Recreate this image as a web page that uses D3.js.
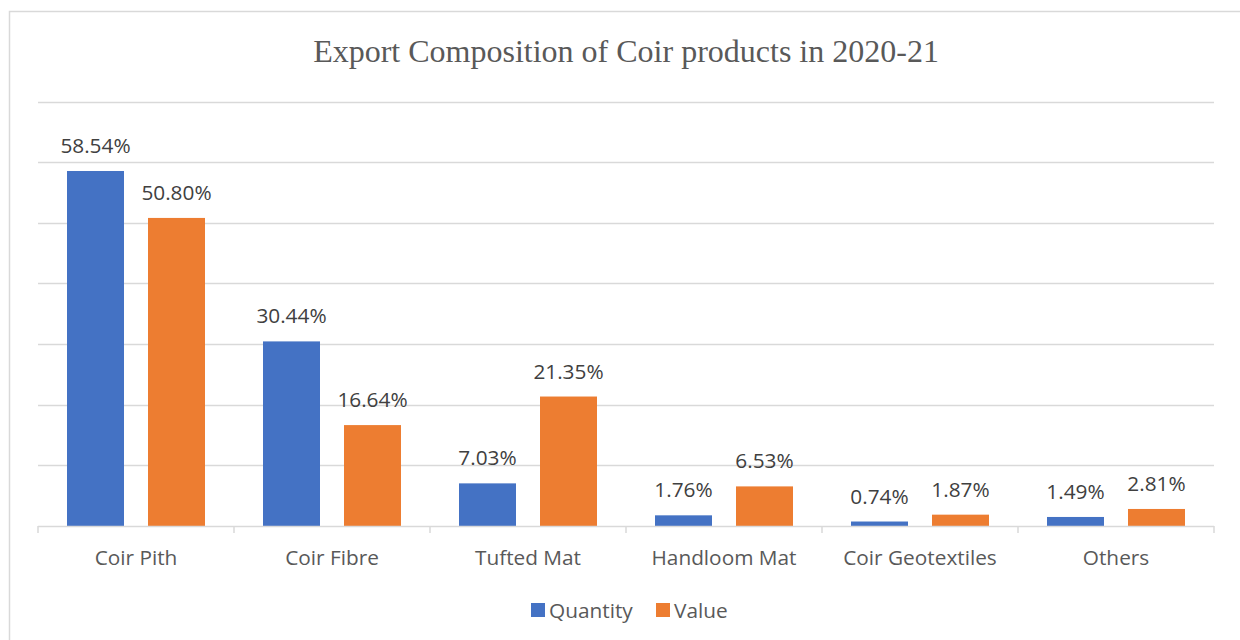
<!DOCTYPE html>
<html><head><meta charset="utf-8">
<script src="https://cdn.jsdelivr.net/npm/d3@7"></script>
<style>body{margin:0;background:#fff}svg{display:block}</style>
</head><body>
<svg id="c" width="1240" height="640"></svg>
<script>
const categories = ["Coir Pith","Coir Fibre","Tufted Mat","Handloom Mat","Coir Geotextiles","Others"];
const quantity = [58.54,30.44,7.03,1.76,0.74,1.49];
const value = [50.80,16.64,21.35,6.53,1.87,2.81];
const seriesNames = ["Quantity","Value"];
const colors = ["#4472C4","#ED7D31"];
const yTicks = [0,10,20,30,40,50,60,70];

const svg = d3.select("#c");
svg.append("rect").attr("x",9.5).attr("y",11.5).attr("width",1240).attr("height",640)
  .attr("fill","#fff").attr("stroke","#d9d9d9").attr("stroke-width",1.5);

const pL=38, pR=1214, pT=101.5, pB=526;
const x = d3.scaleBand().domain(categories).range([pL,pR]).paddingInner(0).paddingOuter(0);
const bw = x.bandwidth();
const x1 = d3.scaleBand().domain(seriesNames).range([29/196*bw, bw-29/196*bw]).paddingInner(24/81);
const y = d3.scaleLinear().domain([0,70]).range([pB,pT]);

svg.append("text").attr("x",626).attr("y",62).attr("text-anchor","middle")
  .attr("font-family","Liberation Serif").attr("font-size",32).attr("fill","#595959")
  .text("Export Composition of Coir products in 2020-21");

svg.append("g").selectAll("line").data(yTicks.slice(1)).join("line")
  .attr("x1",pL).attr("x2",pR).attr("y1",d=>Math.round(y(d))+0.5).attr("y2",d=>Math.round(y(d))+0.5)
  .attr("stroke","#d9d9d9").attr("stroke-width",1.5);

const data = categories.map((c,i)=>({c, vals:[quantity[i],value[i]]}));
const g = svg.append("g");
data.forEach(d=>{
  d.vals.forEach((v,j)=>{
    const xx = x(d.c)+x1(seriesNames[j]);
    g.append("rect").attr("x",xx).attr("width",x1.bandwidth())
      .attr("y",y(v)).attr("height",pB-y(v)).attr("fill",colors[j]);
    g.append("text").attr("x",xx+x1.bandwidth()/2).attr("y",y(v)-18)
      .attr("text-anchor","middle").attr("font-family","Open Sans").attr("font-size",20.8)
      .attr("fill","#404040").text(v.toFixed(2)+"%");
  });
});

const ax = svg.append("g");
ax.append("line").attr("x1",pL).attr("x2",pR).attr("y1",pB+0.5).attr("y2",pB+0.5)
  .attr("stroke","#d9d9d9").attr("stroke-width",1.5);
const bounds = categories.map(c=>x(c)).concat([pR]);
ax.selectAll("line.t").data(bounds).join("line").attr("class","t")
  .attr("x1",d=>d).attr("x2",d=>d).attr("y1",pB).attr("y2",pB+7)
  .attr("stroke","#d9d9d9").attr("stroke-width",1.5);
ax.selectAll("text").data(categories).join("text")
  .attr("x",d=>x(d)+bw/2).attr("y",565).attr("text-anchor","middle")
  .attr("font-family","Open Sans").attr("font-size",20.8).attr("fill","#595959").text(d=>d);

const lg = svg.append("g");
const lx = [531, 656];
seriesNames.forEach((s,i)=>{
  lg.append("rect").attr("x",lx[i]).attr("y",603).attr("width",14).attr("height",14).attr("fill",colors[i]);
  lg.append("text").attr("x",lx[i]+18).attr("y",618).attr("font-family","Open Sans").attr("font-size",20.8)
    .attr("fill","#595959").text(s);
});
</script>
</body></html>
